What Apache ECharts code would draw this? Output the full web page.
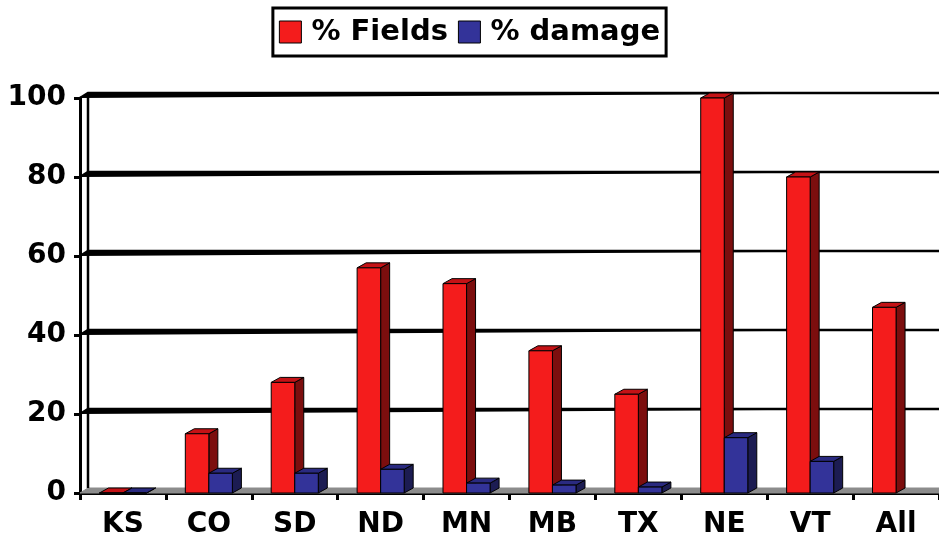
<!DOCTYPE html>
<html>
<head>
<meta charset="utf-8">
<script src="https://cdn.jsdelivr.net/npm/echarts@6/dist/echarts.min.js"></script>
<style>
  html, body { margin: 0; padding: 0; background: #fff; }
  #chart { width: 939px; height: 544px; }
</style>
</head>
<body>
<div id="chart"></div>
<script>
// data
var states = ['KS', 'CO', 'SD', 'ND', 'MN', 'MB', 'TX', 'NE', 'VT', 'All'];
var fieldsPct = [0, 15, 28, 57, 53, 36, 25, 100, 80, 47];
var damagePct = [0, 5, 5, 6, 2.5, 2, 1.5, 14, 8, null];
var yTicks = [20, 40, 60, 80, 100];

// fake 3d depth of the excel-ish look
var DX = 8, DY = -5;
var BAR = 0.274;
var FONT = '"DejaVu Sans", Verdana, sans-serif';

function barRenderer(side, front, top, dark) {
    return function(params, api) {
        var v = api.value(1);
        if (v == null || isNaN(v)) return;
        var base = api.coord([api.value(0), 0]);
        var tip = api.coord([api.value(0), v]);
        var bw = api.size([1, 0])[0] * BAR;
        var x1 = side < 0 ? base[0] - bw : base[0];
        var x2 = x1 + bw;
        var yb = base[1], yt = tip[1];
        var dx = DX + 1;
        var edge = {stroke: '#000', lineWidth: 1};
        return {
            type: 'group',
            children: [
                {type: 'polygon', shape: {points: [[x2, yt], [x2 + dx, yt + DY], [x2 + dx, yb + DY], [x2, yb]]},
                    style: Object.assign({fill: dark}, edge)},
                {type: 'polygon', shape: {points: [[x1, yt], [x2, yt], [x2 + dx, yt + DY], [x1 + dx, yt + DY]]},
                    style: Object.assign({fill: top}, edge)},
                {type: 'rect', shape: {x: x1, y: yt, width: bw, height: yb - yt},
                    style: Object.assign({fill: front}, edge)}
            ]
        };
    };
}

function wallRenderer(params, api) {
    var cs = params.coordSys;
    var x0 = cs.x, x1 = cs.x + cs.width;
    var y0 = api.coord([0, 0])[1];
    var y = api.coord([0, api.value(0)])[1];
    var line = {stroke: '#000', lineWidth: 2.5};
    var kids = [
        {type: 'polyline', shape: {points: [[x0, y], [x0 + DX, y + DY], [x1, y + DY]]}, style: line}
    ];
    if (params.dataIndex === 0) {
        var yTop = api.coord([0, 100])[1];
        kids.push({type: 'polygon', shape: {points: [[x0, y0], [x1 + DX, y0], [x1 + DX, y0 + DY], [x0 + DX, y0 + DY]]},
            style: {fill: '#8c8c8c', stroke: '#8c8c8c', lineWidth: 1}});
        kids.push({type: 'line', shape: {x1: x0 + DX, y1: y0 + DY, x2: x0 + DX, y2: yTop + DY}, style: line});
    }
    return {type: 'group', children: kids};
}

var chart = echarts.init(document.getElementById('chart'));
chart.setOption({
    animation: false,
    backgroundColor: '#fff',
    legend: {
        top: 8,
        left: 'center',
        icon: 'rect',
        itemWidth: 22,
        itemHeight: 22,
        itemGap: 10,
        padding: [7, 6],
        borderColor: '#000',
        borderWidth: 3,
        textStyle: {fontFamily: FONT, fontWeight: 'bold', fontSize: 29, color: '#000', lineHeight: 34, padding: [0, 0, 0, 5]},
        data: [
            {name: '% Fields', itemStyle: {color: '#f41c1c', borderColor: '#000', borderWidth: 1}},
            {name: '% damage', itemStyle: {color: '#333399', borderColor: '#000', borderWidth: 1}}
        ]
    },
    grid: {left: 80, right: 0, top: 98, bottom: 51},
    xAxis: {
        type: 'category',
        data: states,
        axisLine: {lineStyle: {color: '#000', width: 3}},
        axisTick: {show: true, length: 7, lineStyle: {color: '#000', width: 3}},
        axisLabel: {fontFamily: FONT, fontWeight: 'bold', fontSize: 28, color: '#000', margin: 18}
    },
    yAxis: {
        type: 'value',
        min: 0,
        max: 100,
        interval: 20,
        axisLine: {show: true, lineStyle: {color: '#000', width: 3}},
        axisTick: {show: true, length: 6, lineStyle: {color: '#000', width: 3}},
        splitLine: {show: false},
        axisLabel: {fontFamily: FONT, fontWeight: 'bold', fontSize: 28, color: '#000', margin: 14}
    },
    series: [
        {
            type: 'custom',
            name: 'walls',
            silent: true,
            renderItem: wallRenderer,
            data: yTicks.map(function(t) { return [t]; })
        },
        {
            type: 'custom',
            name: '% Fields',
            itemStyle: {color: '#f41c1c'},
            renderItem: barRenderer(-1, '#f41c1c', '#c41216', '#7c0e0e'),
            encode: {x: 0, y: 1},
            data: fieldsPct.map(function(v, i) { return [i, v]; })
        },
        {
            type: 'custom',
            name: '% damage',
            itemStyle: {color: '#333399'},
            renderItem: barRenderer(1, '#333399', '#2a2a80', '#1c1c52'),
            encode: {x: 0, y: 1},
            data: damagePct.map(function(v, i) { return [i, v]; })
        }
    ]
});
</script>
</body>
</html>
